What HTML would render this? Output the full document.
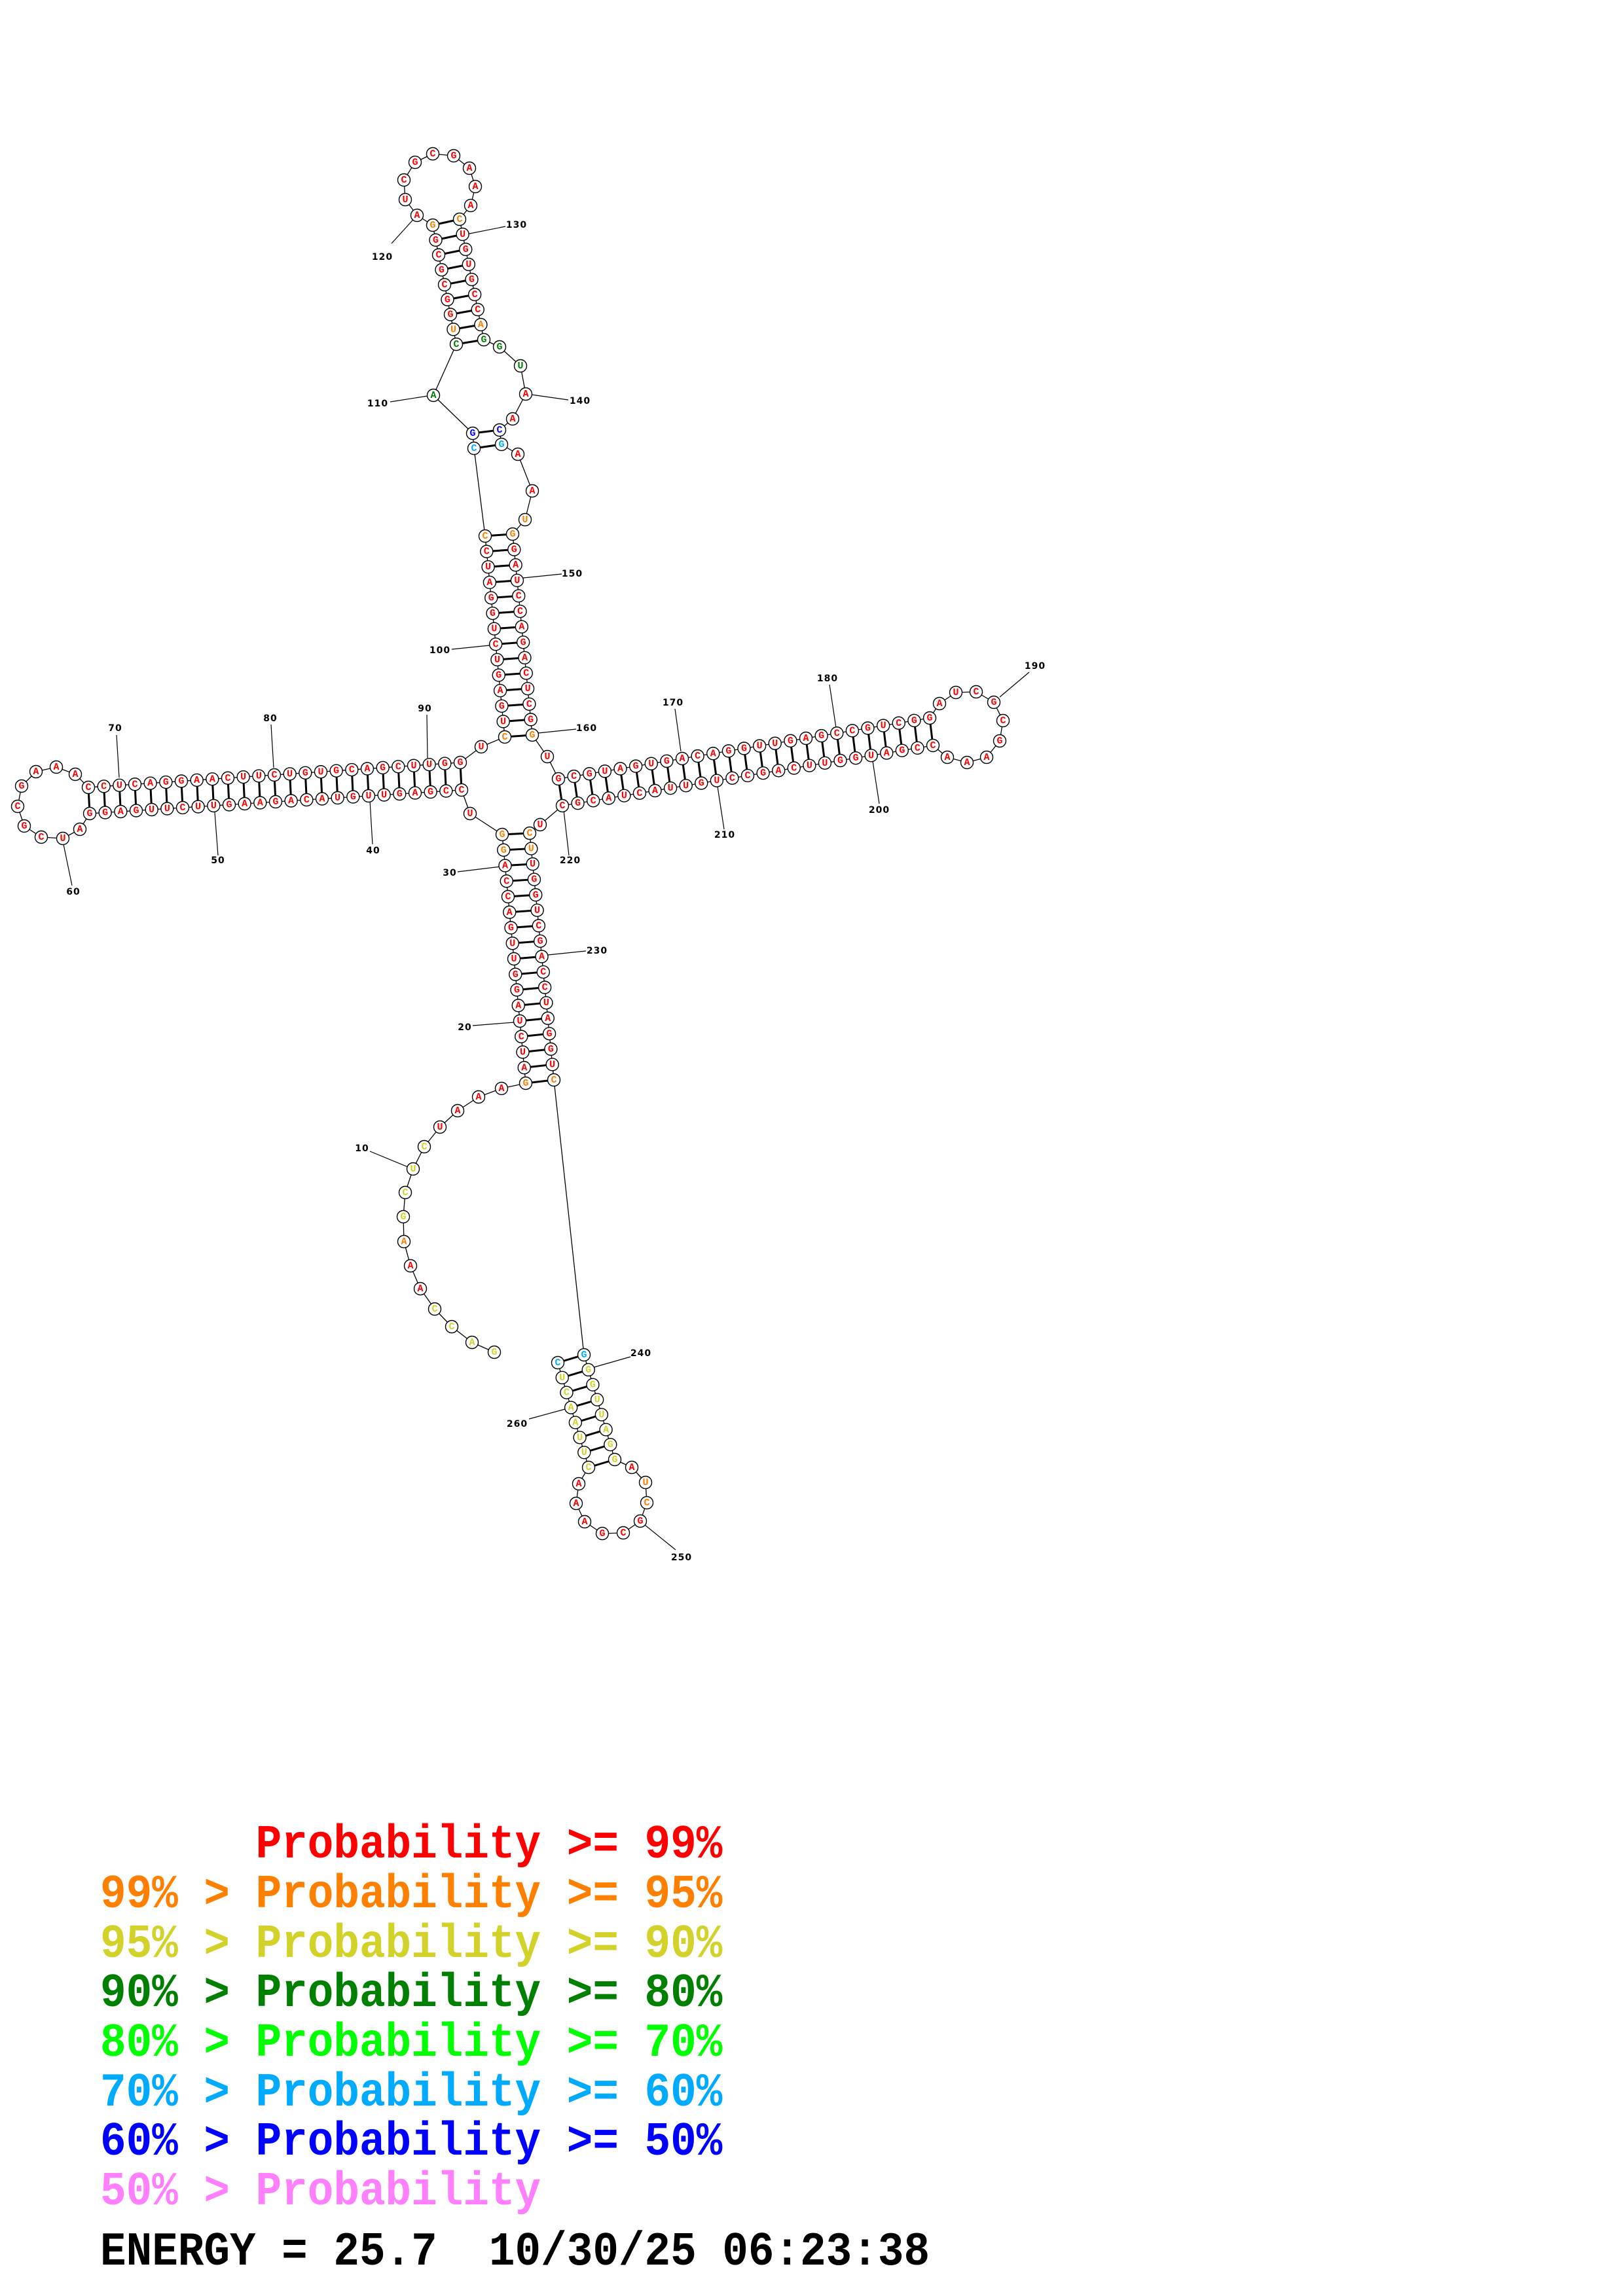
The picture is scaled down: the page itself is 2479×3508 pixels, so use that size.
<!DOCTYPE html>
<html><head><meta charset="utf-8">
<style>
html,body{margin:0;padding:0;background:#fff;}
svg{display:block;}
.n{font-family:"Liberation Mono",monospace;font-weight:bold;font-size:15px;text-anchor:middle;dominant-baseline:central;}
.lb{font-family:"DejaVu Sans","Liberation Sans",sans-serif;font-weight:bold;font-size:14px;letter-spacing:1px;text-anchor:middle;dominant-baseline:central;fill:#000;}
.lg{font-family:"Liberation Mono",monospace;font-weight:bold;font-size:66px;white-space:pre;}
</style></head>
<body>
<svg id="s" width="2479" height="3508" viewBox="0 0 2479 3508" xmlns="http://www.w3.org/2000/svg">
<g id="lines"></g><g id="nodes"></g><g id="labels"></g>
<g xml:space="preserve">
<text class="lg" fill="#ff0000" transform="translate(153,2838) scale(1,1.1)">      Probability &gt;= 99%</text>
<text class="lg" fill="#ff8000" transform="translate(153,2914) scale(1,1.1)">99% &gt; Probability &gt;= 95%</text>
<text class="lg" fill="#d2d22a" transform="translate(153,2990) scale(1,1.1)">95% &gt; Probability &gt;= 90%</text>
<text class="lg" fill="#008000" transform="translate(153,3065) scale(1,1.1)">90% &gt; Probability &gt;= 80%</text>
<text class="lg" fill="#00ff00" transform="translate(153,3141) scale(1,1.1)">80% &gt; Probability &gt;= 70%</text>
<text class="lg" fill="#00aaff" transform="translate(153,3217) scale(1,1.1)">70% &gt; Probability &gt;= 60%</text>
<text class="lg" fill="#0000ff" transform="translate(153,3292) scale(1,1.1)">60% &gt; Probability &gt;= 50%</text>
<text class="lg" fill="#ff80ff" transform="translate(153,3368) scale(1,1.1)">50% &gt; Probability</text>
<text class="lg" fill="#000000" transform="translate(153,3460) scale(1,1.1)">ENERGY = 25.7  10/30/25 06:23:38</text>
</g>
</svg>
<script>
(function(){
var R='#ff0000',O='#ff8000',Y='#d2d22a',G='#008000',L='#00aaff',B='#0000ff';
var NS='http://www.w3.org/2000/svg';
function lin(x0,y0,x1,y1,n){var a=[];for(var i=0;i<n;i++){a.push([x0+(x1-x0)*i/(n-1),y0+(y1-y0)*i/(n-1)]);}return a;}
function mk(pos,seq,cols){return pos.map(function(p,i){return {x:p[0],y:p[1],c:seq[i],col:(cols&&cols[i])||R};});}
function rev(a){return a.slice().reverse();}
function fill(n,def,over){var a=[];for(var i=0;i<n;i++)a.push(def);for(var k in over)a[k]=over[k];return a;}

var bL=mk(lin(767,1275,803,1655,17),"GGACCAGUUGGAUCUAG",fill(17,R,{0:O,1:O,16:O}));
var bR=mk(lin(809,1273,846,1650,17),"CUUGGUCGACCUAGGUC",fill(17,R,{0:O,1:O,16:O}));
var laT=mk(lin(135,1203,703,1165,25),"CCUCAGGAACUUCUGUGCAGCUUGG");
var laB=mk(lin(137,1243,705,1207,25),"GGAGUUCUUGAAGACAUGUUGAGCC");
var uL=mk(lin(741,819,771,1126,14),"CCUAGGUCUGAGUC",fill(14,R,{0:O,13:O}));
var uR=mk(lin(783,816,813,1123,14),"GGAUCCAGACUCGG",fill(14,R,{0:O,13:O}));
var hL=mk(lin(661,344,697,526,9),"GGCGCGGUC",fill(9,R,{0:O,7:O,8:G}));
var hR=mk(lin(702,335,739,519,9),"CUGUGCCAG",fill(9,R,{0:O,7:O,8:G}));
var rT=mk(lin(853,1190,1420,1097,25),"GCGUAGUGACAGGUUGAGCCGUCGG");
var rB=mk(lin(859,1231,1425,1139,25),"CGCAUCAUUGUCCGACUUGGUAGCC");
var zR=mk(lin(892,2070,939,2230,8),"GGGUUAGG",fill(8,Y,{0:L}));
var zL=mk(lin(852,2082,899,2242,8),"CUCAAUUC",fill(8,Y,{0:L}));

function pts(list){return list.map(function(p){return {x:p[0],y:p[1],c:p[2],col:p[3]||R};});}
var tail=pts([[755,2066,'G',Y],[721,2051,'A',Y],[690,2027,'C',Y],[664,2000,'C',Y],[642,1969,'A'],[627,1934,'A'],[617,1897,'A',O],[616,1859,'G',Y],[619,1822,'C',Y],[631,1786,'U',Y],[648,1752,'C',Y],[672,1722,'U'],[699,1697,'A'],[731,1676,'A'],[766,1663,'A']]);
var s33=pts([[718,1243,'U']]);
var lLoop=pts([[122,1267,'A'],[96,1281,'U'],[63,1279,'C'],[37,1262,'G'],[27,1232,'C'],[33,1201,'G'],[55,1179,'A'],[86,1172,'A'],[115,1183,'A']]);
var s93=pts([[735,1141,'U']]);
var top1=pts([[724,685,'C',L],[722,662,'G',B],[662,604,'A',G]]);
var hLoop=pts([[637,329,'A'],[619,305,'U'],[617,275,'C'],[634,248,'G'],[661,235,'C'],[693,238,'G'],[717,257,'A'],[726,285,'A'],[719,314,'A']]);
var top2=pts([[763,530,'G',G],[795,559,'U',G],[803,602,'A'],[783,640,'A'],[763,657,'C',B],[766,679,'G',L],[791,694,'A'],[813,750,'A'],[802,794,'U',O]]);
var s161=pts([[836,1156,'U']]);
var rLoop=pts([[1435,1075,'A'],[1460,1058,'U'],[1491,1057,'C'],[1518,1073,'G'],[1532,1101,'C'],[1527,1132,'G'],[1507,1157,'A'],[1477,1165,'A'],[1447,1157,'A']]);
var s221=pts([[825,1260,'U']]);
var zLoop=pts([[965,2242,'A'],[986,2265,'U',O],[988,2296,'C',O],[978,2324,'G'],[952,2342,'C'],[920,2343,'G'],[893,2325,'A'],[880,2297,'A'],[884,2267,'A']]);

var seq=[].concat(tail,rev(bL),s33,rev(laB),lLoop,laT,s93,rev(uL),top1,rev(hL),hLoop,hR,top2,uR,s161,rT,rLoop,rev(rB),s221,bR,zR,zLoop,rev(zL));

var pairs=[];
function pr(a,b){for(var i=0;i<a.length;i++)pairs.push([a[i],b[i]]);}
pr(bL,bR);pr(laT,laB);pr(uL,uR);pr(hL,hR);pr(rT,rB);pr(zR,zL);
pairs.push([top1[0],top2[5]]);pairs.push([top1[1],top2[4]]);

var gl=document.getElementById('lines'),gn=document.getElementById('nodes'),gb=document.getElementById('labels');
function el(p,t,a,txt){var e=document.createElementNS(NS,t);for(var k in a)e.setAttribute(k,a[k]);if(txt!==undefined)e.textContent=txt;p.appendChild(e);return e;}
for(var i=0;i<seq.length-1;i++){var a=seq[i],b=seq[i+1];el(gl,'line',{x1:a.x,y1:a.y,x2:b.x,y2:b.y,stroke:'#000','stroke-width':1.3});}
pairs.forEach(function(p){el(gl,'line',{x1:p[0].x,y1:p[0].y,x2:p[1].x,y2:p[1].y,stroke:'#000','stroke-width':3});});
var labs=[[584,393,'120',598,372,637,329],[789,344,'130',707,359,772,346],[577,617,'110',596,614,653,605],[886,613,'140',812,603,868,611],
[874,877,'150',799,883,858,877],[672,994,'100',690,992,748,986],[896,1113,'160',822,1120,880,1114],[649,1083,'90',652,1092,653,1158],
[413,1098,'80',414,1107,418,1173],[176,1113,'70',178,1123,182,1188],[112,1363,'60',97,1290,110,1353],[333,1315,'50',328,1241,333,1307],
[570,1300,'40',565,1223,569,1290],[687,1334,'30',699,1332,765,1324],[710,1570,'20',722,1567,785,1562],[553,1755,'10',565,1759,623,1783],
[871,1315,'220',861,1238,869,1307],[912,1453,'230',837,1459,895,1453],[1028,1074,'170',1031,1083,1040,1148],[1107,1276,'210',1096,1202,1106,1267],
[1264,1037,'180',1267,1046,1277,1112],[1581,1018,'190',1572,1027,1527,1065],[1343,1238,'200',1333,1163,1343,1228],
[979,2068,'240',907,2089,963,2073],[1041,2380,'250',985,2330,1032,2368],[790,2176,'260',808,2168,863,2153]];
labs.forEach(function(l){el(gl,'line',{x1:l[3],y1:l[4],x2:l[5],y2:l[6],stroke:'#000','stroke-width':1.2});el(gb,'text',{x:l[0],y:l[1],'class':'lb'},l[2]);});
seq.forEach(function(n){el(gn,'circle',{cx:n.x,cy:n.y,r:9.5,fill:'#fff',stroke:'#000','stroke-width':1.4});el(gn,'text',{x:n.x,y:n.y+0.5,'class':'n',fill:n.col},n.c);});
})();
</script>
</body></html>
